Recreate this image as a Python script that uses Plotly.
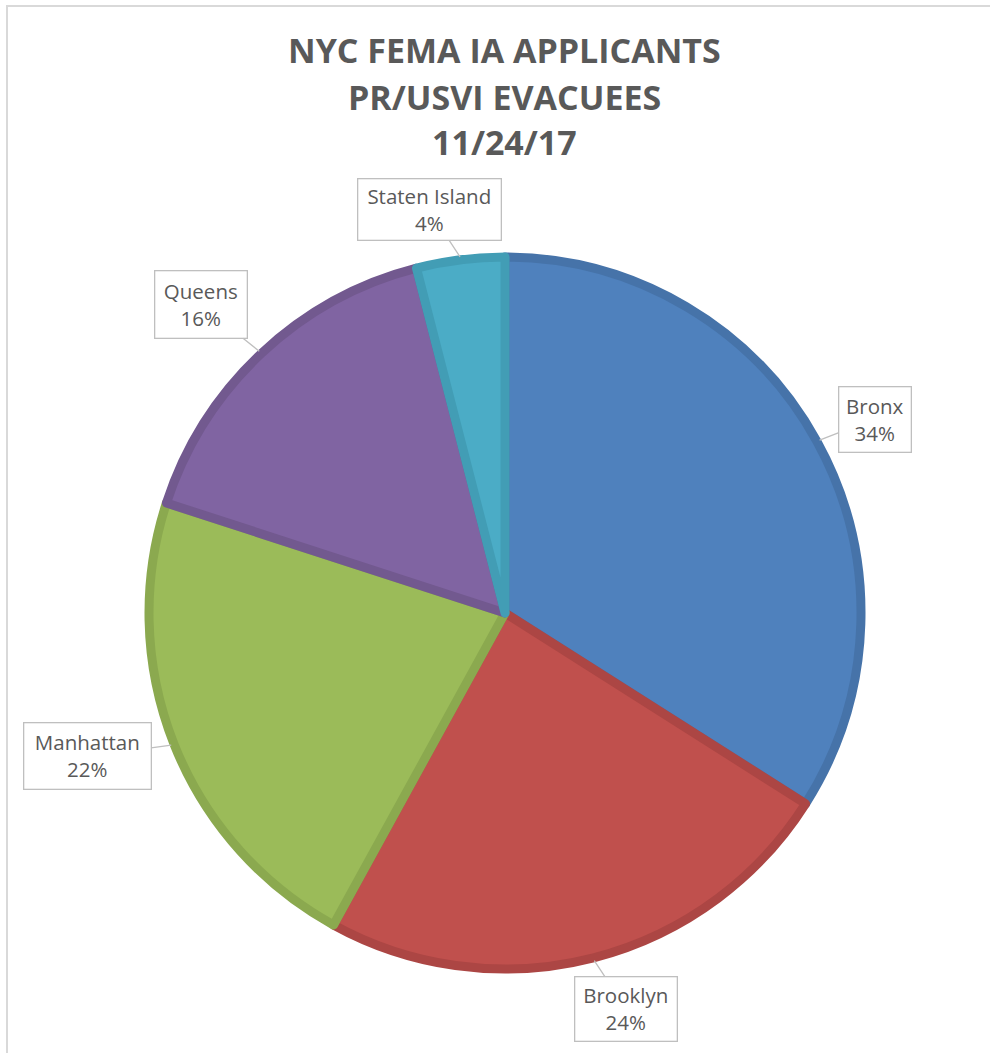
import math
import plotly.graph_objects as go

# ---- data ----
boroughs = ["Bronx", "Brooklyn", "Manhattan", "Queens", "Staten Island"]
shares = [34, 24, 22, 16, 4]
fill_colors = ["#4F81BD", "#C0504D", "#9BBB59", "#8064A2", "#4BACC6"]
edge_colors = ["#4673A9", "#AC4644", "#8BA94F", "#72598F", "#429DB5"]
title_lines = ["NYC FEMA IA APPLICANTS", "PR/USVI EVACUEES", "11/24/17"]

# ---- layout geometry (pixels) ----
W, H = 990, 1053
cx, cy, R = 505, 613, 356
# callout box offset (from slice edge midpoint) and box size, per slice
box_offset = [(55, -21), (32, 48), (-84, 11), (-58, -47), (-31, -47)]
box_size = [(73, 66), (103, 65), (128, 67), (93, 68), (144, 62)]

fig = go.Figure()
fig.add_trace(go.Pie(
    labels=boroughs,
    values=shares,
    sort=False,
    direction="clockwise",
    rotation=0,
    textinfo="none",
    hoverinfo="label+percent",
    marker=dict(colors=fill_colors, line=dict(color=edge_colors, width=9)),
    domain=dict(x=[(cx - R) / W, (cx + R) / W], y=[1 - (cy + R) / H, 1 - (cy - R) / H]),
    showlegend=False,
))

annotations = []
total = sum(shares)
cum = 0
for i, (name, v) in enumerate(zip(boroughs, shares)):
    mid = (cum + v / 2) / total * 2 * math.pi
    cum += v
    tx = cx + (R + 3) * math.sin(mid)
    ty = cy - (R + 3) * math.cos(mid)
    ax, ay = box_offset[i]
    bw, bh = box_size[i]
    annotations.append(dict(
        x=tx / W, y=1 - ty / H, xref="paper", yref="paper",
        ax=ax, ay=ay, axref="pixel", ayref="pixel",
        text=f"{name}<br>{round(v / total * 100)}%",
        showarrow=True, arrowhead=0, arrowwidth=1.3, arrowcolor="#BFBFBF", standoff=0,
        font=dict(family="Open Sans", size=20.5, color="#595959"),
        bgcolor="white", bordercolor="#BFBFBF", borderwidth=1.3,
        width=bw - 4, height=bh - 4, align="center", valign="middle",
    ))

title_y = [50, 97, 142]
for line, yy in zip(title_lines, title_y):
    annotations.append(dict(
        x=(cx) / W, y=1 - yy / H, xref="paper", yref="paper",
        text=f"<b>{line}</b>", showarrow=False, xanchor="center", yanchor="middle",
        font=dict(family="Open Sans", size=34, color="#595959"),
    ))

fig.update_layout(
    width=W, height=H,
    margin=dict(l=0, r=0, t=0, b=0),
    paper_bgcolor="white", plot_bgcolor="white",
    annotations=annotations,
    shapes=[dict(type="rect", xref="paper", yref="paper",
                 x0=7 / W, x1=1.02, y0=-0.02, y1=1 - 6 / H,
                 line=dict(color="#D9D9D9", width=2), layer="below")],
)

fig.write_html("out.html", config={"displayModeBar": False},
               post_script="document.body.style.margin='0';")
